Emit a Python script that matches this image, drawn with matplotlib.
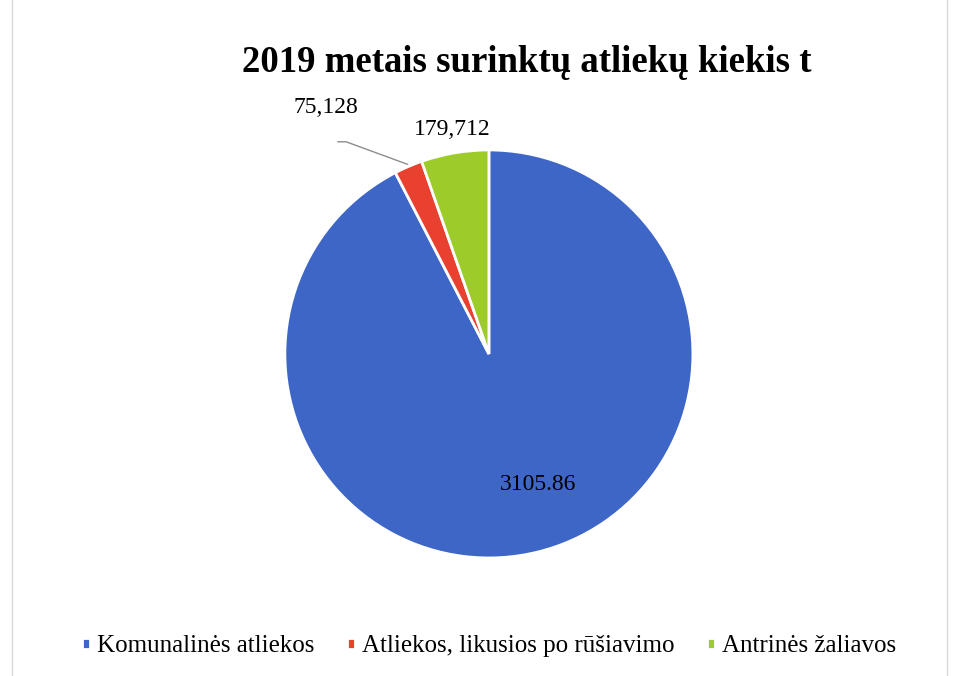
import matplotlib.pyplot as plt
from matplotlib.patches import Rectangle

plt.rcParams['font.family'] = ['Liberation Serif', 'DejaVu Serif']

# data
categories = ['Komunalinės atliekos', 'Atliekos, likusios po rūšiavimo', 'Antrinės žaliavos']
values = [3105.86, 75.128, 179.712]
value_labels = ['3105.86', '75,128', '179,712']
colors = ['#3d66c6', '#e8412f', '#9ccb2a']

fig = plt.figure(figsize=(9.56, 6.76), dpi=100)
fig.patch.set_facecolor('white')

# faint chart frame like the scanned page
fig.add_artist(Rectangle((0.013, -0.01), 0.978, 1.02, transform=fig.transFigure,
                         fill=False, edgecolor='#d8d8d8', linewidth=1))

ax = fig.add_axes([0.298, 0.1746, 0.4268, 0.6036])
wedges, _ = ax.pie(values, colors=colors, startangle=90, counterclock=False,
                   wedgeprops=dict(edgecolor='white', linewidth=2))
ax.set_xlim(-1, 1)
ax.set_ylim(-1, 1)
ax.set_aspect('equal')

# data labels
ax.text(0.24, -0.64, value_labels[0], ha='center', va='center', fontsize=17)
ax.text(-0.80, 1.21, value_labels[1], ha='center', va='center', fontsize=17)
ax.text(-0.18, 1.10, value_labels[2], ha='center', va='center', fontsize=17)
ax.plot([-0.74, -0.70, -0.40], [1.04, 1.04, 0.93], color='#8c8c8c', linewidth=1, clip_on=False)

fig.text(0.551, 0.908, '2019 metais surinktų atliekų kiekis t', ha='center', va='center',
         fontsize=26.5, fontweight='bold')

fig.legend(wedges, categories, loc='center', bbox_to_anchor=(0.512, 0.044), ncol=3,
           frameon=False, fontsize=18, handlelength=0.3, handleheight=0.3,
           handletextpad=0.3, columnspacing=1.3)

fig.savefig('out.png', dpi=100)
